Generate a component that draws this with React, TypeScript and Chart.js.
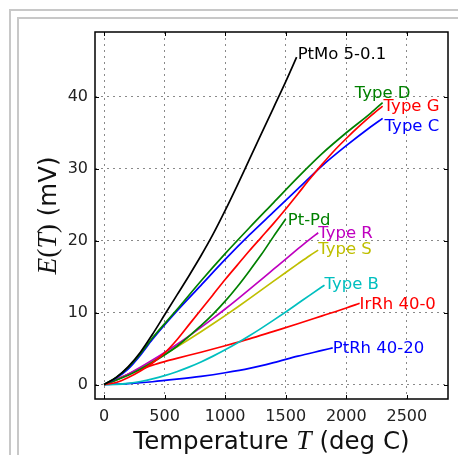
import React, { useEffect, useRef } from "react";
import { Chart, registerables } from "chart.js";

Chart.register(...registerables);

// ---------------- data ----------------
const xTicks = [0, 500, 1000, 1500, 2000, 2500];
const yTicks = [0, 10, 20, 30, 40];

const ptMoTemps = [0, 100, 200, 300, 400, 500, 600, 700, 800, 900, 1000, 1100, 1200, 1300, 1400, 1500, 1590];
const ptMoEmf = [0, 1.0, 2.5, 4.5, 7.0, 9.7, 12.4, 15.1, 17.9, 20.9, 24.2, 27.7, 31.3, 34.9, 38.5, 42.1, 45.5];

const typeDTemps = [0, 100, 200, 300, 400, 600, 800, 1000, 1200, 1400, 1600, 1800, 2000, 2200, 2300];
const typeDEmf = [0, 1.0, 2.4, 4.3, 6.5, 10.4, 14.4, 18.2, 21.8, 25.3, 28.8, 32.1, 35.0, 37.7, 39.2];

const typeGTemps = [0, 100, 200, 300, 400, 500, 600, 700, 800, 900, 1000, 1100, 1200, 1300, 1400, 1500, 1600, 1700, 1800, 1900, 2000, 2100, 2200, 2300];
const typeGEmf = [0, 0.3, 1.0, 1.9, 3.0, 4.4, 6.2, 8.3, 10.4, 12.5, 14.6, 16.6, 18.6, 20.5, 22.4, 24.4, 26.5, 28.6, 30.6, 32.5, 34.2, 35.8, 37.3, 38.7];

const typeCTemps = [0, 100, 200, 300, 400, 600, 800, 1000, 1200, 1400, 1600, 1800, 2000, 2200, 2300];
const typeCEmf = [0, 0.9, 2.2, 4.1, 6.3, 10.2, 13.8, 17.4, 20.8, 24.0, 27.2, 30.4, 33.2, 35.8, 37.0];

const ptPdTemps = [0, 200, 400, 600, 800, 900, 1000, 1100, 1200, 1300, 1400, 1500];
const ptPdEmf = [0, 1.3, 3.1, 5.3, 8.2, 9.8, 11.6, 13.6, 15.8, 18.1, 20.6, 23.0];

const typeRTemps = [0, 100, 200, 300, 400, 500, 600, 700, 800, 900, 1000, 1100, 1200, 1300, 1400, 1500, 1600, 1700, 1768];
const typeREmf = [0, 0.647, 1.469, 2.401, 3.408, 4.471, 5.583, 6.743, 7.95, 9.205, 10.506, 11.85, 13.228, 14.629, 16.04, 17.451, 18.849, 20.222, 21.101];

const typeSTemps = [0, 100, 200, 300, 400, 500, 600, 700, 800, 900, 1000, 1100, 1200, 1300, 1400, 1500, 1600, 1700, 1768];
const typeSEmf = [0, 0.646, 1.441, 2.323, 3.259, 4.233, 5.239, 6.275, 7.345, 8.449, 9.587, 10.757, 11.951, 13.159, 14.373, 15.582, 16.777, 17.947, 18.693];

const typeBTemps = [0, 100, 200, 300, 400, 500, 600, 700, 800, 900, 1000, 1100, 1200, 1300, 1400, 1500, 1600, 1700, 1800, 1820];
const typeBEmf = [0, 0.033, 0.178, 0.431, 0.787, 1.242, 1.792, 2.431, 3.154, 3.957, 4.834, 5.78, 6.786, 7.848, 8.956, 10.099, 11.263, 12.433, 13.591, 13.82];

const irRhTemps = [0, 100, 200, 300, 400, 500, 600, 800, 1000, 1200, 1400, 1600, 1800, 2000, 2110];
const irRhEmf = [0, 0.75, 1.45, 2.1, 2.7, 3.2, 3.65, 4.5, 5.4, 6.35, 7.4, 8.45, 9.55, 10.65, 11.3];

const ptRhTemps = [0, 200, 400, 600, 800, 1000, 1200, 1400, 1600, 1800, 1888];
const ptRhEmf = [0, 0.15, 0.4, 0.75, 1.15, 1.65, 2.25, 3.05, 3.95, 4.75, 5.1];

const seriesNames = ["PtMo 5-0.1", "Type D", "Type G", "Type C", "Pt-Pd", "Type R", "Type S", "Type B", "IrRh 40-0", "PtRh 40-20"];
const seriesTemps = [ptMoTemps, typeDTemps, typeGTemps, typeCTemps, ptPdTemps, typeRTemps, typeSTemps, typeBTemps, irRhTemps, ptRhTemps];
const seriesEmf = [ptMoEmf, typeDEmf, typeGEmf, typeCEmf, ptPdEmf, typeREmf, typeSEmf, typeBEmf, irRhEmf, ptRhEmf];

// ---------------- styles ----------------
const seriesColors = ["#000000", "#008000", "#ff0000", "#0000ff", "#008000", "#bf00bf", "#bfbf00", "#00bfbf", "#ff0000", "#0000ff"];
const labelStyles: { align: CanvasTextAlign; baseline: CanvasTextBaseline; dx: number; dy: number }[] = [
  { align: "left", baseline: "middle", dx: 1, dy: -2 },
  { align: "center", baseline: "bottom", dx: 0, dy: -1 },
  { align: "left", baseline: "middle", dx: 1, dy: 1 },
  { align: "left", baseline: "top", dx: 2, dy: 0 },
  { align: "left", baseline: "middle", dx: 2, dy: 2 },
  { align: "left", baseline: "middle", dx: 0, dy: 1 },
  { align: "left", baseline: "middle", dx: 0, dy: 0 },
  { align: "left", baseline: "middle", dx: 0, dy: 0 },
  { align: "left", baseline: "middle", dx: 0, dy: 1 },
  { align: "left", baseline: "middle", dx: 0, dy: 1 },
];

const SANS = '"DejaVu Sans", sans-serif';
const TICK_FONT_SIZE = 16;
const LABEL_FONT = `16.5px ${SANS}`;
const TITLE_SANS = `24.5px ${SANS}`;
const TITLE_ITALIC = 'italic 27.5px "Liberation Serif", serif';
const TITLE_ROMAN = '27.5px "Liberation Serif", serif';

type Seg = { t: string; f: string };
const xTitle: Seg[] = [
  { t: "Temperature ", f: TITLE_SANS },
  { t: "T", f: TITLE_ITALIC },
  { t: " (deg C)", f: TITLE_SANS },
];
const yTitle: Seg[] = [
  { t: "E", f: TITLE_ITALIC },
  { t: "(", f: TITLE_ROMAN },
  { t: "T", f: TITLE_ITALIC },
  { t: ")", f: TITLE_ROMAN },
  { t: " (mV)", f: TITLE_SANS },
];

function drawSegs(ctx: CanvasRenderingContext2D, segs: Seg[], cx: number, baseY: number) {
  let total = 0;
  const widths = segs.map((s) => {
    ctx.font = s.f;
    const w = ctx.measureText(s.t).width;
    total += w;
    return w;
  });
  let x = cx - total / 2;
  ctx.textAlign = "left";
  ctx.textBaseline = "alphabetic";
  segs.forEach((s, i) => {
    ctx.font = s.f;
    ctx.fillText(s.t, x, baseY);
    x += widths[i];
  });
}

const overlayPlugin = {
  id: "overlay",
  afterDatasetsDraw(chart: any) {
    const { ctx, chartArea: a } = chart;
    const xs = chart.scales.x;
    const ys = chart.scales.y;
    ctx.save();
    // frame
    ctx.strokeStyle = "#000";
    ctx.lineWidth = 1.5;
    ctx.strokeRect(a.left, a.top, a.right - a.left, a.bottom - a.top);
    // inward ticks
    ctx.lineWidth = 1;
    ctx.beginPath();
    xs.ticks.forEach((t: any) => {
      const px = Math.round(xs.getPixelForValue(t.value)) + 0.5;
      ctx.moveTo(px, a.bottom);
      ctx.lineTo(px, a.bottom - 4);
      ctx.moveTo(px, a.top);
      ctx.lineTo(px, a.top + 4);
    });
    ys.ticks.forEach((t: any) => {
      const py = Math.round(ys.getPixelForValue(t.value)) + 0.5;
      ctx.moveTo(a.left, py);
      ctx.lineTo(a.left + 4, py);
      ctx.moveTo(a.right, py);
      ctx.lineTo(a.right - 4, py);
    });
    ctx.stroke();
    // curve labels
    chart.data.datasets.forEach((ds: any, i: number) => {
      const meta = chart.getDatasetMeta(i);
      const pt = meta.data[meta.data.length - 1];
      const st = labelStyles[i];
      ctx.font = LABEL_FONT;
      ctx.fillStyle = ds.borderColor;
      ctx.textAlign = st.align;
      ctx.textBaseline = st.baseline;
      ctx.fillText(ds.label, pt.x + st.dx, pt.y + st.dy);
    });
    // axis titles
    ctx.fillStyle = "#111";
    drawSegs(ctx, xTitle, (a.left + a.right) / 2, 449);
    ctx.save();
    ctx.translate(56, (a.top + a.bottom) / 2);
    ctx.rotate(-Math.PI / 2);
    drawSegs(ctx, yTitle, 0, 0);
    ctx.restore();
    ctx.restore();
  },
};

export default function App() {
  const canvasRef = useRef<HTMLCanvasElement | null>(null);

  useEffect(() => {
    if (!canvasRef.current) return;
    const datasets = seriesNames.map((name, i) => ({
      label: name,
      data: seriesTemps[i].map((t, j) => ({ x: t, y: seriesEmf[i][j] })),
      borderColor: seriesColors[i],
      backgroundColor: seriesColors[i],
      borderWidth: 1.7,
      pointRadius: 0,
      fill: false,
      cubicInterpolationMode: "monotone" as const,
    }));
    const tickFont = { family: SANS, size: TICK_FONT_SIZE };
    const chart = new Chart(canvasRef.current, {
      type: "line",
      data: { datasets },
      options: {
        animation: false,
        responsive: false,
        events: [],
        layout: { padding: { top: 32, right: 10, left: 0, bottom: 0 } },
        plugins: { legend: { display: false }, tooltip: { enabled: false }, title: { display: false } },
        scales: {
          x: {
            type: "linear",
            min: -75,
            max: 2840,
            afterBuildTicks: (s: any) => {
              s.ticks = xTicks.map((v) => ({ value: v }));
            },
            afterFit: (s: any) => {
              s.height = 56;
            },
            grid: { color: "#8a8a8a", lineWidth: 1, drawTicks: false },
            border: { display: false, dash: [2, 4] },
            ticks: {
              padding: 8,
              font: tickFont,
              color: "#222",
              maxRotation: 0,
              autoSkip: false,
              callback: (v: any) => String(v),
            },
          },
          y: {
            type: "linear",
            min: -2,
            max: 49,
            afterBuildTicks: (s: any) => {
              s.ticks = yTicks.map((v) => ({ value: v }));
            },
            afterFit: (s: any) => {
              s.width = 95;
            },
            grid: { color: "#8a8a8a", lineWidth: 1, drawTicks: false },
            border: { display: false, dash: [2, 4] },
            ticks: { padding: 7, font: tickFont, color: "#222", autoSkip: false, callback: (v: any) => String(v) },
          },
        },
      },
      plugins: [overlayPlugin],
    });
    return () => chart.destroy();
  }, []);

  return (
    <div style={{ position: "absolute", left: 0, top: 0, width: 458, height: 455, overflow: "hidden", background: "#fff" }}>
      <div style={{ position: "absolute", left: 9, top: 9, width: 600, height: 600, border: "2px solid #c8c8c8", background: "#fff" }} />
      <div style={{ position: "absolute", left: 17, top: 17, width: 600, height: 600, border: "2px solid #c8c8c8", background: "#fff" }} />
      <canvas ref={canvasRef} width={458} height={455} style={{ position: "absolute", left: 0, top: 0, width: 458, height: 455 }} />
    </div>
  );
}
